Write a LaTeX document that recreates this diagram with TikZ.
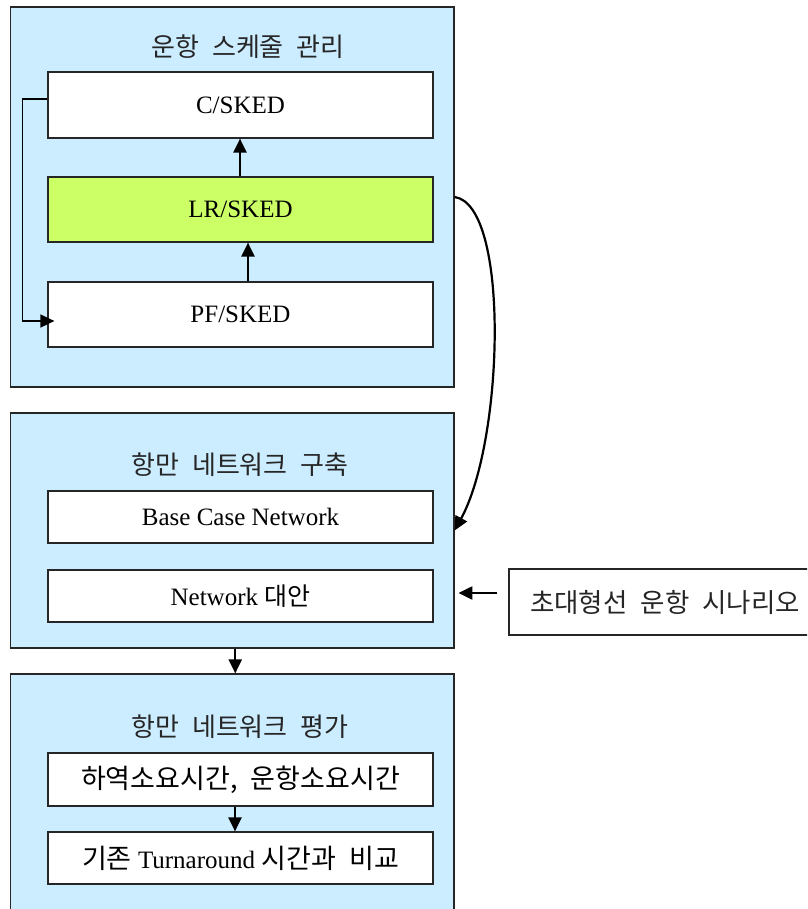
\documentclass[tikz,border=0pt]{standalone}
\usepackage{fontspec}
\setmainfont{Liberation Serif}
\newfontfamily\kr[WordSpace=2.2]{Noto Sans CJK KR}
\usetikzlibrary{arrows.meta}
\definecolor{panelblue}{HTML}{CCECFF}
\definecolor{limegreen}{HTML}{CCFF66}
\tikzset{
  panel/.style={draw=black!85, line width=1.2pt, fill=panelblue, inner sep=0pt},
  stepbox/.style={draw=black!85, line width=1.2pt, fill=white, inner sep=0pt,
    minimum width=385pt, font=\fontsize{25}{30}\selectfont},
  paneltitle/.style={font=\kr\fontsize{26}{30}\selectfont, text=black!85, inner sep=0pt},
  arr/.style={line width=2.2pt, -{Triangle[length=14pt,width=13pt]}},
}
\newcommand{\krbig}{\kr\fontsize{27}{30}\selectfont}
\begin{document}
\begin{tikzpicture}[x=1pt,y=1pt]
\useasboundingbox (0,0) rectangle (807,-909);
\clip (0,0) rectangle (807,-909);

% schedule management panel
\node[panel, minimum width=443.5pt, minimum height=380pt] (top) at (232.25,-197) {};
\node[paneltitle] (toptitle) at (248,-47) {운항 스케줄 관리};
\node[stepbox, minimum height=66pt] (C) at (240.5,-105) {C/SKED};
\node[stepbox, minimum height=65pt, fill=limegreen] (LR) at (240.5,-209.5) {LR/SKED};
\node[stepbox, minimum height=65pt] (PF) at (240.5,-314.5) {PF/SKED};

% port network construction panel
\node[panel, minimum width=443.5pt, minimum height=235pt] (mid) at (232.25,-530.5) {};
\node[paneltitle] (midtitle) at (240,-465) {항만 네트워크 구축};
\node[stepbox, minimum height=52pt] (base) at (240.5,-517) {Base Case Network};
\node[stepbox, minimum height=52pt] (alt) at (240.5,-596) {Network {\kr 대안}};

% port network evaluation panel
\node[panel, minimum width=443.5pt, minimum height=270pt] (bot) at (232.25,-809) {};
\node[paneltitle] (bottitle) at (240,-727) {항만 네트워크 평가};
\node[stepbox, minimum height=53pt, font=\krbig] (times) at (240.5,-779.5) {하역소요시간, 운항소요시간};
\node[stepbox, minimum height=52pt] (cmp) at (240.5,-858) {{\krbig 기존} Turnaround {\krbig 시간과 비교}};

% scenario input
\node[draw=black!85, line width=1.2pt, fill=white, inner sep=0pt,
  minimum width=320pt, minimum height=66pt] (scen) at (669,-602) {};
\node[paneltitle, anchor=west, font=\kr\fontsize{26.5}{30}\selectfont] (scentext) at (530,-602) {초대형선 운항 시나리오};

% connectors
\draw[arr] ([xshift=-0.5pt]LR.north) -- ([xshift=-0.5pt]C.south);
\draw[arr] ([xshift=7.5pt]PF.north) -- ([xshift=7.5pt]LR.south);
\draw[line width=1.6pt, -{Triangle[length=14pt,width=13pt]}]
  ([yshift=6pt]C.west) -- ++(-25,0) |- ([xshift=7pt,yshift=-6.5pt]PF.west);
\draw[arr] (top.east) .. controls (510,-205) and (504,-440) .. (mid.east);
\draw[arr] ([xshift=-11pt,yshift=9pt]scen.west) -- ++(-39pt,0);
\draw[arr] ([xshift=3pt]mid.south) -- ([xshift=3pt]bot.north);
\draw[arr] ([xshift=-5.5pt]times.south) -- ([xshift=-5.5pt]cmp.north);
\end{tikzpicture}
\end{document}
